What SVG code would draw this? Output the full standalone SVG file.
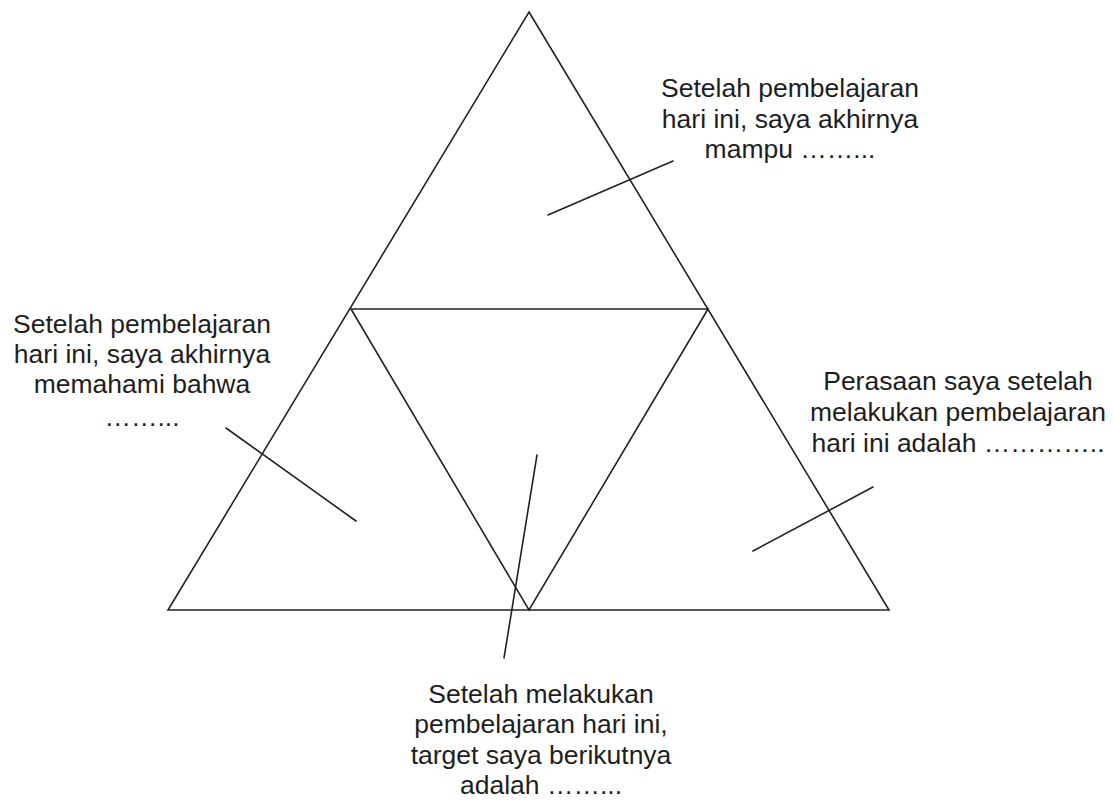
<svg xmlns="http://www.w3.org/2000/svg" width="1113" height="803" viewBox="0 0 1113 803">
<style>
.s{fill:none;stroke:#222;stroke-width:1.6;stroke-linecap:round;stroke-linejoin:miter}
.t{font-family:"Liberation Sans",Arial,sans-serif;font-size:26.5px;fill:#1e1e1e;text-anchor:middle}
</style>
<rect width="1113" height="803" fill="#fff"/>
<g id="outer-triangle"><polygon class="s" points="529,12 889,610 168,610"/></g>
<g id="inner-triangle"><polygon class="s" points="351,309 708,309 529,610"/></g>
<g id="label-top"><text class="t" x="790" y="97">Setelah pembelajaran</text><text class="t" x="790" y="128">hari ini, saya akhirnya</text><text class="t" x="790" y="158">mampu ……...</text></g>
<g id="label-left"><text class="t" x="142" y="333">Setelah pembelajaran</text><text class="t" x="142" y="363">hari ini, saya akhirnya</text><text class="t" x="142" y="393">memahami bahwa</text><text class="t" x="142" y="426">……...</text></g>
<g id="label-right"><text class="t" x="958" y="390">Perasaan saya setelah</text><text class="t" x="958" y="421">melakukan pembelajaran</text><text class="t" x="958" y="452">hari ini adalah …………..</text></g>
<g id="label-bottom"><text class="t" x="541" y="703">Setelah melakukan</text><text class="t" x="541" y="733">pembelajaran hari ini,</text><text class="t" x="541" y="764">target saya berikutnya</text><text class="t" x="541" y="794">adalah  ……...</text></g>
<g id="connectors">
<line class="s" x1="548" y1="215" x2="673" y2="161"/>
<line class="s" x1="226" y1="428" x2="356" y2="521"/>
<line class="s" x1="873" y1="487" x2="753" y2="551"/>
<line class="s" x1="537" y1="455" x2="504" y2="658"/>
</g>
</svg>
